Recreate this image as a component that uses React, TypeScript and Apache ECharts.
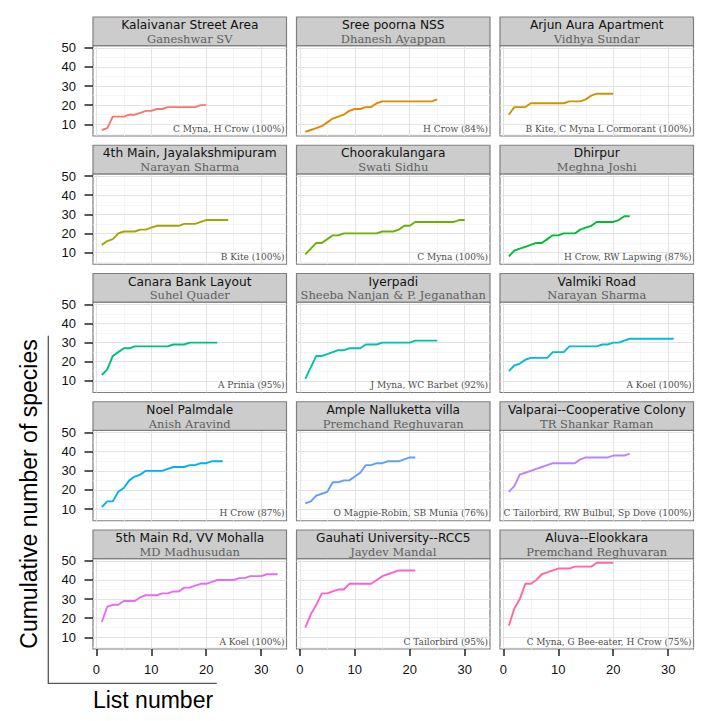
import React, { useEffect, useRef } from "react";
import * as echarts from "echarts";

// ---- Data ----
const locations = [
  "Kalaivanar Street Area",
  "Sree poorna NSS",
  "Arjun Aura Apartment",
  "4th Main, Jayalakshmipuram",
  "Choorakulangara",
  "Dhirpur",
  "Canara Bank Layout",
  "Iyerpadi",
  "Valmiki Road",
  "Noel Palmdale",
  "Ample Nalluketta villa",
  "Valparai--Cooperative Colony",
  "5th Main Rd, VV Mohalla",
  "Gauhati University--RCC5",
  "Aluva--Elookkara",
];
const observers = [
  "Ganeshwar SV",
  "Dhanesh Ayappan",
  "Vidhya Sundar",
  "Narayan Sharma",
  "Swati Sidhu",
  "Meghna Joshi",
  "Suhel Quader",
  "Sheeba Nanjan & P. Jeganathan",
  "Narayan Sharma",
  "Anish Aravind",
  "Premchand Reghuvaran",
  "TR Shankar Raman",
  "MD Madhusudan",
  "Jaydev Mandal",
  "Premchand Reghuvaran",
];
const commonest = [
  "C Myna, H Crow (100%)",
  "H Crow (84%)",
  "B Kite, C Myna L Cormorant (100%)",
  "B Kite (100%)",
  "C Myna (100%)",
  "H Crow, RW Lapwing (87%)",
  "A Prinia (95%)",
  "J Myna, WC Barbet (92%)",
  "A Koel (100%)",
  "H Crow (87%)",
  "O Magpie-Robin, SB Munia (76%)",
  "C Tailorbird, RW Bulbul, Sp Dove (100%)",
  "A Koel (100%)",
  "C Tailorbird (95%)",
  "C Myna, G Bee-eater, H Crow (75%)",
];

const kalaivanar = [7, 8, 14, 14, 14, 15, 15, 16, 17, 17, 18, 18, 19, 19, 19, 19, 19, 19, 20, 20];
const sreePoorna = [6, 7, 8, 9, 11, 13, 14, 15, 17, 18, 18, 19, 19, 21, 22, 22, 22, 22, 22, 22, 22, 22, 22, 22, 23];
const arjunAura = [15, 19, 19, 19, 21, 21, 21, 21, 21, 21, 21, 22, 22, 22, 23, 25, 26, 26, 26, 26];
const fourthMain = [14, 16, 17, 20, 21, 21, 21, 22, 22, 23, 24, 24, 24, 24, 24, 25, 25, 25, 26, 27, 27, 27, 27, 27];
const choorakulangara = [9, 12, 15, 15, 17, 19, 19, 20, 20, 20, 20, 20, 20, 20, 21, 21, 21, 22, 24, 24, 26, 26, 26, 26, 26, 26, 26, 26, 27, 27];
const dhirpur = [8, 11, 12, 13, 14, 15, 15, 17, 19, 19, 20, 20, 20, 22, 23, 24, 26, 26, 26, 26, 27, 29, 29];
const canara = [13, 16, 23, 25, 27, 27, 28, 28, 28, 28, 28, 28, 28, 29, 29, 29, 30, 30, 30, 30, 30, 30];
const iyerpadi = [11, 17, 23, 23, 24, 25, 26, 26, 27, 27, 27, 29, 29, 29, 30, 30, 30, 30, 30, 30, 31, 31, 31, 31, 31];
const valmiki = [15, 18, 19, 21, 22, 22, 22, 22, 25, 25, 25, 28, 28, 28, 28, 28, 28, 29, 29, 30, 30, 31, 32, 32, 32, 32, 32, 32, 32, 32, 32];
const noel = [11, 14, 14, 19, 21, 25, 27, 28, 30, 30, 30, 30, 31, 32, 32, 32, 33, 33, 34, 34, 35, 35, 35];
const ample = [13, 14, 17, 18, 19, 24, 24, 25, 25, 27, 29, 33, 33, 34, 34, 35, 35, 35, 36, 37, 37];
const valparai = [19, 22, 28, 29, 30, 31, 32, 33, 34, 34, 34, 34, 34, 36, 37, 37, 37, 37, 37, 38, 38, 38, 39];
const vvMohalla = [18, 26, 27, 27, 29, 29, 29, 31, 32, 32, 32, 33, 33, 34, 34, 36, 36, 37, 38, 38, 39, 40, 40, 40, 40, 41, 41, 42, 42, 42, 43, 43, 43];
const gauhati = [15, 22, 27, 33, 33, 34, 35, 35, 38, 38, 38, 38, 38, 40, 42, 43, 44, 45, 45, 45, 45];
const aluva = [16, 25, 30, 38, 38, 40, 43, 44, 45, 46, 46, 46, 47, 47, 47, 47, 49, 49, 49, 49];

const seriesValues = [
  kalaivanar, sreePoorna, arjunAura, fourthMain, choorakulangara, dhirpur,
  canara, iyerpadi, valmiki, noel, ample, valparai, vvMohalla, gauhati, aluva,
];

const yTicks = [10, 20, 30, 40, 50];
const yMinorTicks = [5, 15, 25, 35, 45];
const xTicks = [0, 10, 20, 30];
const xMinorTicks = [5, 15, 25];

const colors = [
  "#F8766D", "#E58700", "#C99800", "#A3A500", "#6BB100",
  "#00BA38", "#00BF7D", "#00C0AF", "#00BCD8", "#00B0F6",
  "#619CFF", "#B983FF", "#E76BF3", "#FD61D1", "#FF67A4",
];

// ---- Layout ----
const W = 707;
const H = 721;
const COL_LEFT = [93, 296.5, 500];
const PANEL_W = 193.5;
const PLOT_TOP0 = 45.7;
const ROW_STEP = 128.25;
const PLOT_H = 90.3;
const STRIP_H = 28.7;
const NCOL = 3;
const NROW = 5;

export default function App() {
  const ref = useRef<HTMLDivElement>(null);

  useEffect(() => {
    if (!ref.current) return;
    const chart = echarts.init(ref.current, null, { renderer: "svg" });

    // ggplot-like 5% expansion of the shared scales
    const allY = seriesValues.flat();
    const yLo = Math.min(...allY);
    const yHi = Math.max(...allY);
    const yPad = (yHi - yLo) * 0.05;
    const xLo = 1;
    const xHi = Math.max(...seriesValues.map((s) => s.length));
    const xPad = (xHi - xLo) * 0.05;
    const yMin = yLo - yPad;
    const yMax = yHi + yPad;
    const xMin = xLo - xPad;
    const xMax = xHi + xPad;

    const grids: any[] = [];
    const xAxes: any[] = [];
    const yAxes: any[] = [];
    const series: any[] = [];
    const graphics: any[] = [];

    const gridLineData = [
      ...yMinorTicks.map((v) => ({ yAxis: v, lineStyle: { color: "#f2f2f2", width: 0.8, type: "solid" } })),
      ...xMinorTicks.map((v) => ({ xAxis: v, lineStyle: { color: "#f2f2f2", width: 0.8, type: "solid" } })),
      ...yTicks.map((v) => ({ yAxis: v, lineStyle: { color: "#e3e3e3", width: 1, type: "solid" } })),
      ...xTicks.map((v) => ({ xAxis: v, lineStyle: { color: "#e3e3e3", width: 1, type: "solid" } })),
    ];

    seriesValues.forEach((vals, i) => {
      const r = Math.floor(i / NCOL);
      const c = i % NCOL;
      const left = COL_LEFT[c];
      const top = PLOT_TOP0 + r * ROW_STEP;
      const isLeft = c === 0;
      const isBottom = r === NROW - 1;

      grids.push({
        left,
        top,
        width: PANEL_W,
        height: PLOT_H,
        show: true,
        backgroundColor: "#ffffff",
        borderColor: "#7f7f7f",
        borderWidth: 1.2,
        containLabel: false,
      });
      xAxes.push({
        type: "value",
        gridIndex: i,
        min: xMin,
        max: xMax,
        axisLine: { show: false, onZero: false },
        splitLine: { show: false },
        axisTick: {
          show: isBottom,
          customValues: xTicks,
          length: 7,
          lineStyle: { color: "#222222", width: 1.5 },
        },
        axisLabel: {
          show: isBottom,
          customValues: xTicks,
          margin: 14,
          fontSize: 13,
          color: "#111111",
          fontFamily: "Liberation Sans",
        },
      });
      yAxes.push({
        type: "value",
        gridIndex: i,
        min: yMin,
        max: yMax,
        axisLine: { show: false, onZero: false },
        splitLine: { show: false },
        axisTick: {
          show: isLeft,
          customValues: yTicks,
          length: 8.5,
          lineStyle: { color: "#222222", width: 1.5 },
        },
        axisLabel: {
          show: isLeft,
          customValues: yTicks,
          margin: 17,
          fontSize: 13,
          color: "#111111",
          fontFamily: "Liberation Sans",
        },
      });
      series.push({
        type: "line",
        name: locations[i],
        xAxisIndex: i,
        yAxisIndex: i,
        data: vals.map((v, k) => [k + 1, v]),
        showSymbol: false,
        symbol: "none",
        z: 3,
        lineStyle: { color: colors[i], width: 1.9 },
        itemStyle: { color: colors[i] },
        markLine: {
          silent: true,
          z: 1,
          symbol: ["none", "none"],
          label: { show: false },
          emphasis: { disabled: true },
          data: gridLineData,
        },
      });

      // strip
      const stripTop = top - STRIP_H;
      graphics.push({
        type: "rect",
        shape: { x: left, y: stripTop, width: PANEL_W, height: STRIP_H },
        style: { fill: "#cccccc", stroke: "#7f7f7f", lineWidth: 1.2 },
        z: 10,
      });
      graphics.push({
        type: "text",
        x: left + PANEL_W / 2,
        y: stripTop + 8,
        style: {
          text: locations[i],
          fill: "#111111",
          font: '12.2px "DejaVu Sans"',
          align: "center",
          verticalAlign: "middle",
        },
        z: 11,
      });
      graphics.push({
        type: "text",
        x: left + PANEL_W / 2,
        y: stripTop + 21.8,
        style: {
          text: observers[i],
          fill: "#5e5e5e",
          font: '11.5px "DejaVu Serif"',
          align: "center",
          verticalAlign: "middle",
        },
        z: 11,
      });
      // note in panel
      graphics.push({
        type: "text",
        x: left + PANEL_W - 2,
        y: top + PLOT_H - 7.5,
        style: {
          text: commonest[i],
          fill: "#4d4d4d",
          font: '9px "DejaVu Serif"',
          align: "right",
          verticalAlign: "middle",
        },
        z: 11,
      });
    });

    // axis titles and L-shaped frame line
    graphics.push({
      type: "text",
      x: 29,
      y: 494,
      rotation: Math.PI / 2,
      style: {
        text: "Cumulative number of species",
        fill: "#000000",
        font: '23px "Liberation Sans"',
        align: "center",
        verticalAlign: "middle",
      },
    });
    graphics.push({
      type: "text",
      x: 153,
      y: 700,
      style: {
        text: "List number",
        fill: "#000000",
        font: '23px "Liberation Sans"',
        align: "center",
        verticalAlign: "middle",
      },
    });
    graphics.push({
      type: "polyline",
      shape: { points: [[48.3, 335.7], [48.3, 683.3], [216.7, 683.3]] },
      style: { stroke: "#555555", lineWidth: 1.3, fill: null },
    });

    chart.setOption({
      animation: false,
      backgroundColor: "#ffffff",
      grid: grids,
      xAxis: xAxes,
      yAxis: yAxes,
      series,
      graphic: { elements: graphics },
    });

    return () => chart.dispose();
  }, []);

  return (
    <div
      ref={ref}
      style={{ position: "absolute", left: 0, top: 0, width: W, height: H }}
    />
  );
}
